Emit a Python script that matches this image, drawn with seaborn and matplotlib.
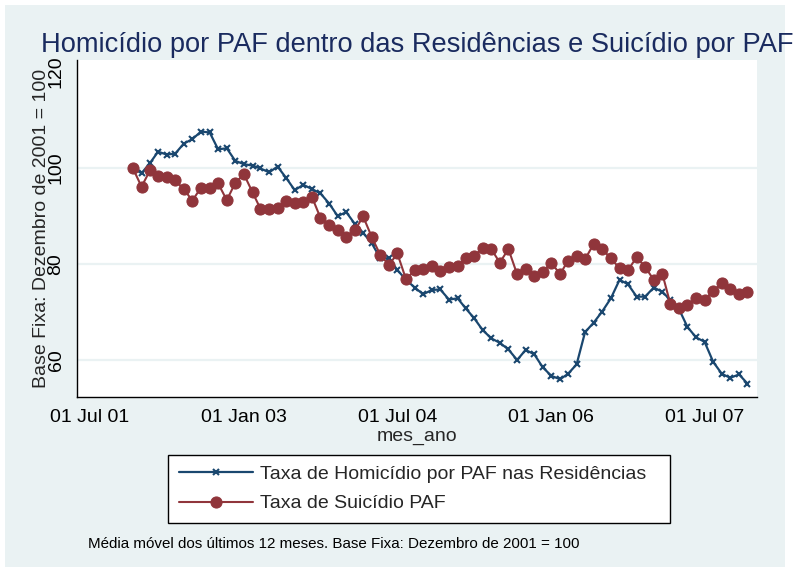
import pandas as pd
import seaborn as sns
import matplotlib.pyplot as plt
from matplotlib.patches import Rectangle

# monthly moving averages, Dec 2001 .. Dec 2007 (base Dec 2001 = 100)
months = pd.date_range('2001-12-01', '2007-12-01', freq='MS')
homicidio = [100.0, 98.9, 101.1, 103.4, 102.8, 103.0, 105.1, 106.0, 107.6, 107.4,
             103.9, 104.1, 101.5, 100.8, 100.5, 99.9, 99.1, 100.3, 97.9, 95.4,
             96.5, 95.6, 94.7, 92.6, 90.0, 90.8, 88.3, 86.5, 84.3, 81.2,
             81.2, 78.75, 76.7, 75.1, 73.7, 74.6, 74.7, 72.6, 72.85, 70.8,
             68.7, 66.25, 64.5, 63.6, 62.2, 60.0, 62.1, 61.2, 58.5, 56.7,
             56.0, 57.1, 59.1, 65.8, 67.8, 70.1, 72.85, 76.7, 75.8, 73.2,
             73.2, 75.1, 74.2, 72.5, 70.6, 66.9, 64.7, 63.8, 59.6, 57.1,
             56.3, 57.0, 55.1]
suicidio = [100.0, 96.1, 99.6, 98.4, 98.2, 97.4, 95.6, 93.2, 95.9, 95.9,
            96.8, 93.3, 96.9, 98.7, 94.9, 91.5, 91.5, 91.6, 93.1, 92.8,
            93.0, 93.9, 89.6, 88.1, 87.0, 85.7, 87.1, 89.9, 85.6, 81.9,
            79.8, 82.2, 76.8, 78.75, 79.0, 79.6, 78.5, 79.45, 79.6, 81.2,
            81.7, 83.3, 83.1, 80.3, 83.1, 77.85, 78.95, 77.5, 78.3, 80.3,
            77.85, 80.7, 81.7, 81.0, 84.2, 83.1, 81.2, 79.1, 78.75, 81.4,
            79.4, 76.7, 77.9, 71.7, 70.9, 71.5, 72.85, 72.5, 74.4, 76.0,
            74.9, 73.7, 74.2]

tick_dates = ['2001-07-01', '2003-01-01', '2004-07-01', '2006-01-01', '2007-07-01']
tick_labels = ['01 Jul 01', '01 Jan 03', '01 Jul 04', '01 Jan 06', '01 Jul 07']
y_ticks = [60, 80, 100, 120]

navy = '#1a476f'
maroon = '#90353b'
bg = '#eaf2f3'

sns.set_style('white')
plt.rcParams['font.family'] = ['Liberation Sans', 'DejaVu Sans']

fig = plt.figure(figsize=(8, 5.72), dpi=100)
fig.patch.set_facecolor('white')
fig.patches.append(Rectangle((5 / 800, 5 / 572), 780 / 800, 562 / 572,
                             transform=fig.transFigure, facecolor=bg,
                             edgecolor='none', zorder=-1))

ax = fig.add_axes([77 / 800, 175 / 572, 680 / 800, 337 / 572])
ax.set_facecolor('white')

for y in [60, 80, 100]:
    ax.axhline(y, color=bg, lw=1.6, zorder=0)

sns.lineplot(x=months, y=homicidio, ax=ax, color=navy, marker='x',
             markersize=5, markeredgewidth=1.5, markeredgecolor=navy,
             linewidth=1.6, label='Taxa de Homicídio por PAF nas Residências')
sns.lineplot(x=months, y=suicidio, ax=ax, color=maroon, marker='o',
             markersize=8, markeredgecolor=maroon, linewidth=1.5,
             label='Taxa de Suicídio PAF')

ax.set_xlim(pd.Timestamp('2001-05-16'), pd.Timestamp('2008-01-04'))
ax.set_ylim(52.3, 122.5)
ax.set_xticks(pd.to_datetime(tick_dates))
ax.set_xticklabels(tick_labels)
ax.set_yticks(y_ticks)

for side in ['top', 'right']:
    ax.spines[side].set_visible(False)
for side in ['left', 'bottom']:
    ax.spines[side].set_color('black')
    ax.spines[side].set_linewidth(1)

ax.tick_params(axis='both', direction='out', length=6, width=1,
               color='black', labelsize=14, labelcolor='black')
ax.tick_params(axis='x', pad=3)
ax.tick_params(axis='y', pad=3, labelrotation=90)
plt.setp(ax.get_yticklabels(), va='center')

ax.set_xlabel('mes_ano', fontsize=14, labelpad=1)
ax.set_ylabel('Base Fixa: Dezembro de 2001 = 100', fontsize=14)
ax.yaxis.set_label_coords(-0.04, 0.5)

ax.legend(loc='center', bbox_to_anchor=(168 / 800, 1 - 525 / 572, 502 / 800, 72 / 572),
          bbox_transform=fig.transFigure, mode='expand', borderaxespad=0,
          fontsize=14, frameon=True, fancybox=False, edgecolor='black',
          facecolor='white', framealpha=1, handlelength=3.8,
          handletextpad=0.4, labelspacing=0.6, borderpad=0.55, numpoints=1)
ax.get_legend().get_frame().set_linewidth(1)

fig.text(417 / 800, 1 - 52 / 572,
         'Homicídio por PAF dentro das Residências e Suicídio por PAF',
         fontsize=19.6, color='#1a2b5f', ha='center', va='baseline')
fig.text(88 / 800, 1 - 548 / 572,
         'Média móvel dos últimos 12 meses. Base Fixa: Dezembro de 2001 = 100',
         fontsize=10.9, color='black', ha='left', va='baseline')

fig.savefig('out.png', dpi=100, facecolor=fig.get_facecolor())
